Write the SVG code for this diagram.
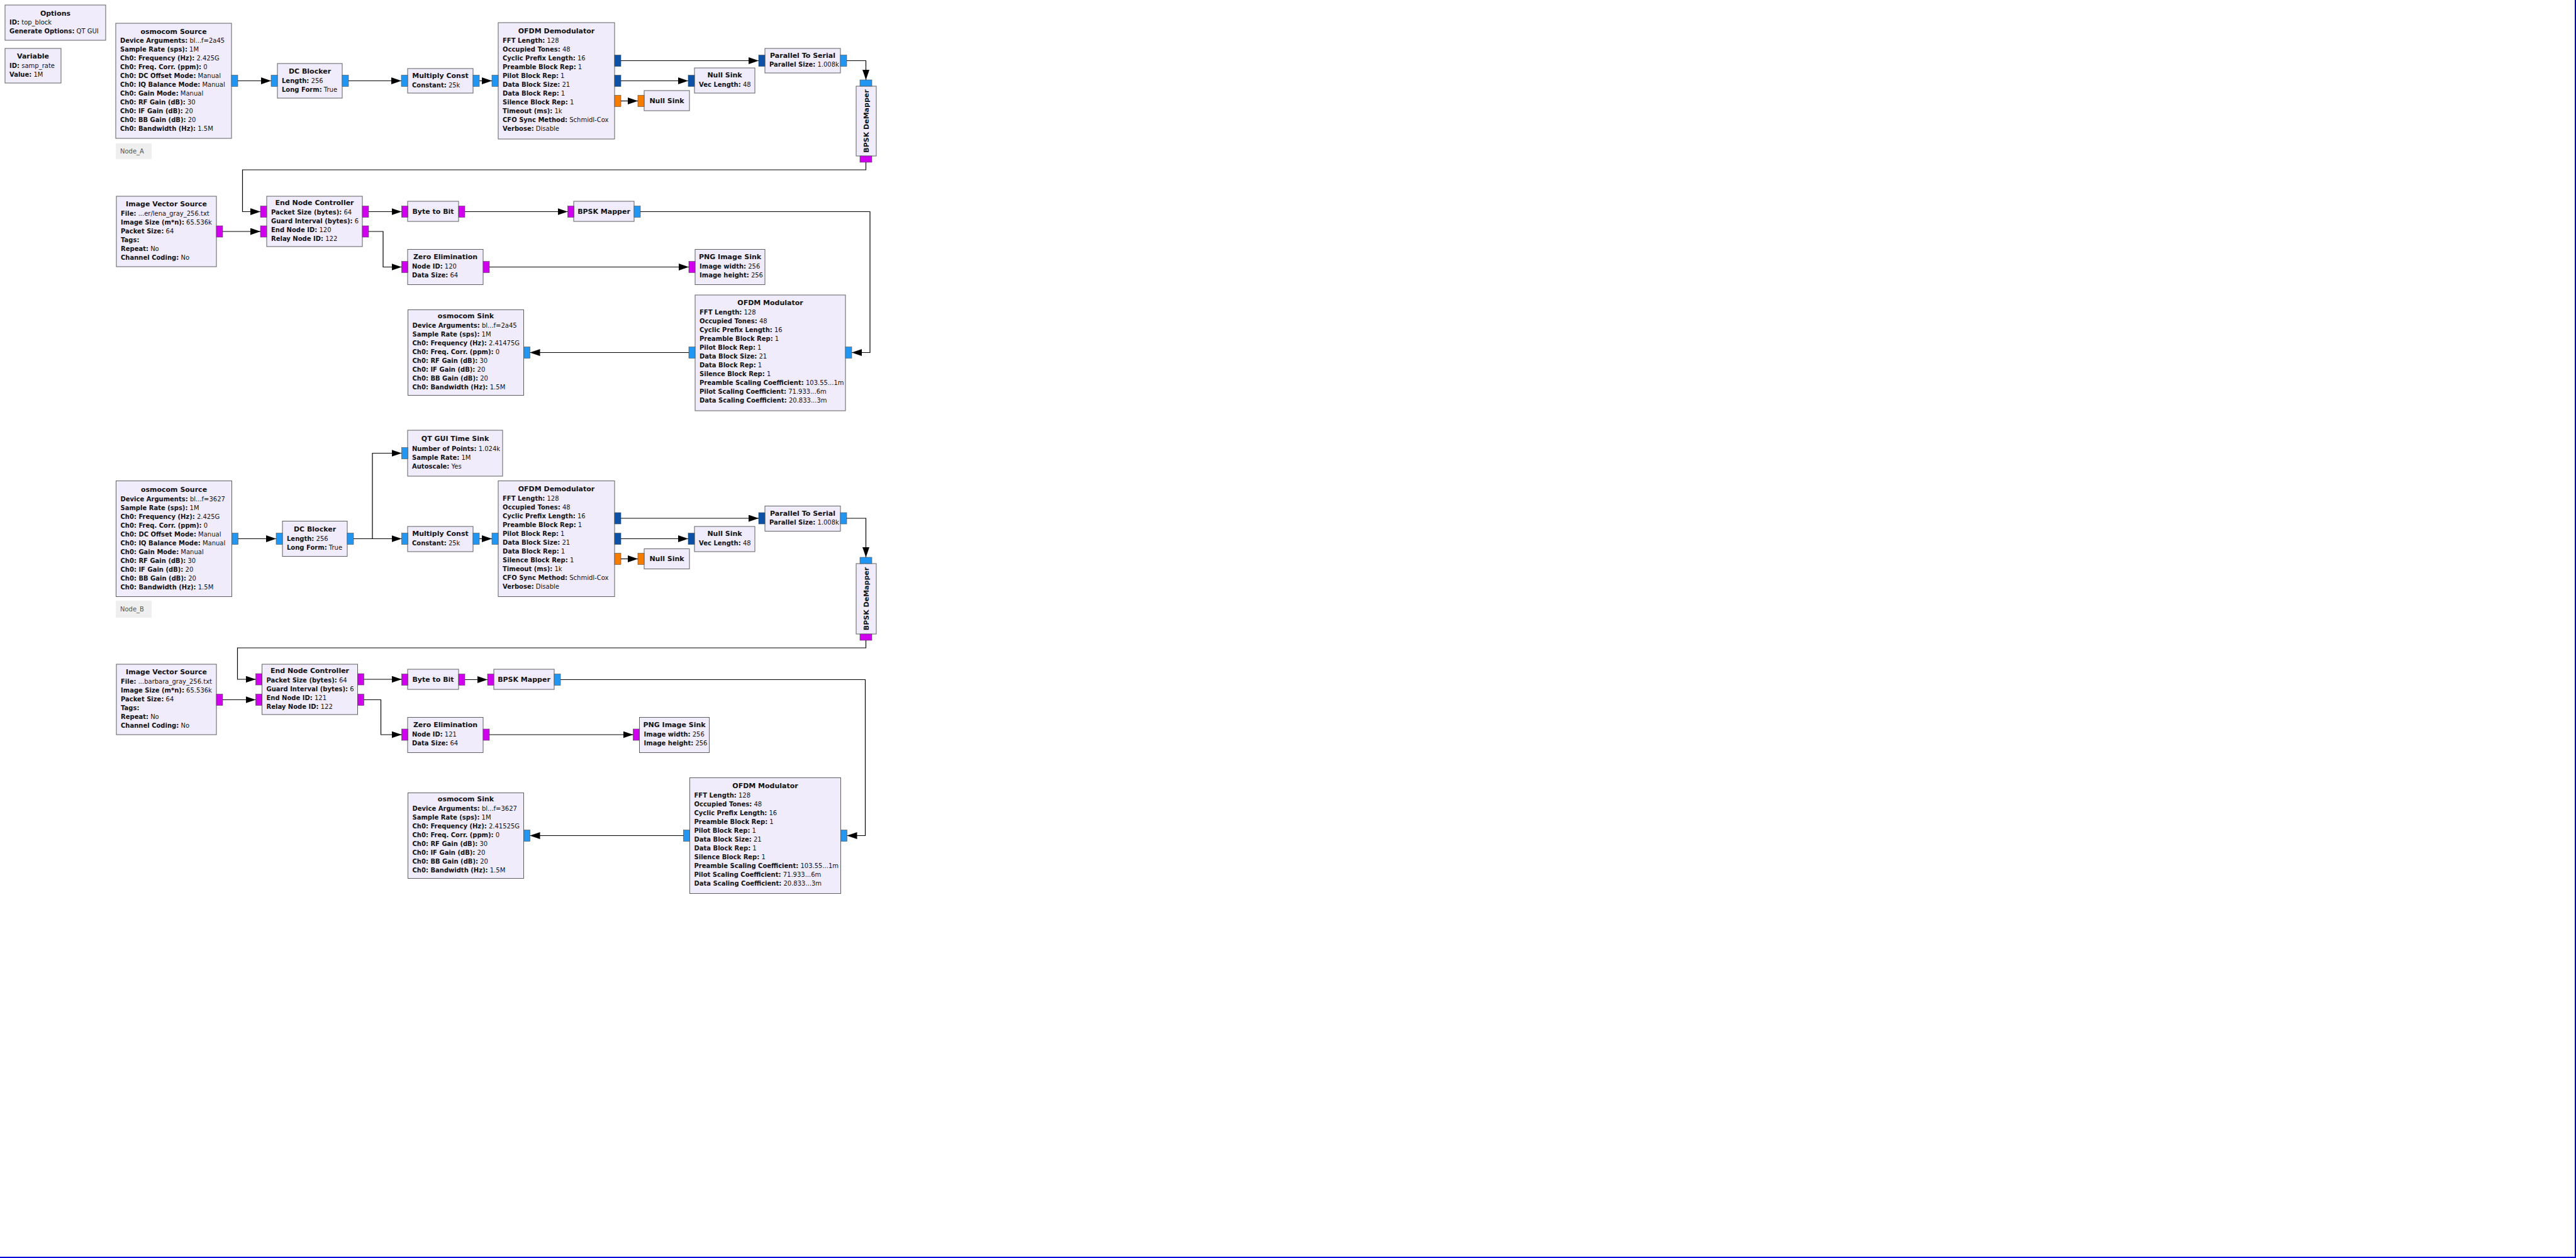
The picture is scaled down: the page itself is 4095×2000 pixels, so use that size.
<svg xmlns="http://www.w3.org/2000/svg" width="4095" height="2000" viewBox="0 0 4095 2000">
<style>
.b{fill:#F0ECFC;stroke:#5E5E5E;stroke-width:1}
text{font-family:"DejaVu Sans","Liberation Sans",sans-serif;font-size:10px;fill:#111}
.h{font-weight:bold;text-anchor:middle;font-size:11px}
.k{font-weight:bold}
.lb{fill:#2196F3;stroke:#4a4a4a;stroke-width:0.6}
.dv{fill:#0B52A6;stroke:#4a4a4a;stroke-width:0.6}
.or{fill:#F57C00;stroke:#4a4a4a;stroke-width:0.6}
.mg{fill:#D000EE;stroke:#4a4a4a;stroke-width:0.6}
.c path{fill:none;stroke:#000;stroke-width:1.2;marker-end:url(#a)}
.lab{fill:#EFEFEF}
</style>
<defs>
<marker id="a" markerUnits="userSpaceOnUse" markerWidth="16" markerHeight="11" refX="16" refY="5.5" orient="auto"><path d="M0,0 L16,5.5 L0,11 z" fill="#000"/></marker>
</defs>
<rect x="0" y="0" width="4095" height="2000" fill="#fff"/>
<g id="options"><rect class="b" x="8" y="8" width="160" height="56"/><text class="h" x="88" y="25">Options</text><text x="15" y="39"><tspan class="k">ID:</tspan> top_block</text><text x="15" y="53"><tspan class="k">Generate Options:</tspan> QT GUI</text></g>
<g id="variable"><rect class="b" x="8" y="77" width="89" height="55"/><text class="h" x="52.5" y="93">Variable</text><text x="15" y="108"><tspan class="k">ID:</tspan> samp_rate</text><text x="15" y="122"><tspan class="k">Value:</tspan> 1M</text></g>

<g id="osmo_src_a"><rect class="b" x="184" y="37" width="184" height="183"/><text class="h" x="276" y="54">osmocom Source</text>
<text x="191" y="68"><tspan class="k">Device Arguments:</tspan> bl...f=2a45</text>
<text x="191" y="82"><tspan class="k">Sample Rate (sps):</tspan> 1M</text>
<text x="191" y="96"><tspan class="k">Ch0: Frequency (Hz):</tspan> 2.425G</text>
<text x="191" y="110"><tspan class="k">Ch0: Freq. Corr. (ppm):</tspan> 0</text>
<text x="191" y="124"><tspan class="k">Ch0: DC Offset Mode:</tspan> Manual</text>
<text x="191" y="138"><tspan class="k">Ch0: IQ Balance Mode:</tspan> Manual</text>
<text x="191" y="152"><tspan class="k">Ch0: Gain Mode:</tspan> Manual</text>
<text x="191" y="166"><tspan class="k">Ch0: RF Gain (dB):</tspan> 30</text>
<text x="191" y="180"><tspan class="k">Ch0: IF Gain (dB):</tspan> 20</text>
<text x="191" y="194"><tspan class="k">Ch0: BB Gain (dB):</tspan> 20</text>
<text x="191" y="208"><tspan class="k">Ch0: Bandwidth (Hz):</tspan> 1.5M</text>
<rect class="lb" x="368" y="119.5" width="10" height="18"/></g>
<g id="node_a_label"><rect class="lab" x="184" y="228" width="57" height="25"/><text x="191" y="244" style="fill:#555">Node_A</text></g>

<g id="dc_a"><rect class="b" x="441" y="101" width="103" height="55"/><text class="h" x="492.5" y="117">DC Blocker</text><text x="448" y="132"><tspan class="k">Length:</tspan> 256</text><text x="448" y="146"><tspan class="k">Long Form:</tspan> True</text><rect class="lb" x="431" y="119.5" width="10" height="18"/><rect class="lb" x="544" y="119.5" width="10" height="18"/></g>
<g id="mult_a"><rect class="b" x="648" y="109" width="104" height="39"/><text class="h" x="700" y="124">Multiply Const</text><text x="655" y="139"><tspan class="k">Constant:</tspan> 25k</text><rect class="lb" x="638" y="119.5" width="10" height="18"/><rect class="lb" x="752" y="119.5" width="10" height="18"/></g>

<g id="ofdm_demod_a"><rect class="b" x="792" y="36" width="185" height="185"/><text class="h" x="884.5" y="53">OFDM Demodulator</text>
<text x="799" y="68"><tspan class="k">FFT Length:</tspan> 128</text>
<text x="799" y="82"><tspan class="k">Occupied Tones:</tspan> 48</text>
<text x="799" y="96"><tspan class="k">Cyclic Prefix Length:</tspan> 16</text>
<text x="799" y="110"><tspan class="k">Preamble Block Rep:</tspan> 1</text>
<text x="799" y="124"><tspan class="k">Pilot Block Rep:</tspan> 1</text>
<text x="799" y="138"><tspan class="k">Data Block Size:</tspan> 21</text>
<text x="799" y="152"><tspan class="k">Data Block Rep:</tspan> 1</text>
<text x="799" y="166"><tspan class="k">Silence Block Rep:</tspan> 1</text>
<text x="799" y="180"><tspan class="k">Timeout (ms):</tspan> 1k</text>
<text x="799" y="194"><tspan class="k">CFO Sync Method:</tspan> Schmidl-Cox</text>
<text x="799" y="208"><tspan class="k">Verbose:</tspan> Disable</text>
<rect class="lb" x="782" y="119.5" width="10" height="18"/><rect class="dv" x="977" y="87.5" width="10" height="18"/><rect class="dv" x="977" y="119.5" width="10" height="18"/><rect class="or" x="977" y="151.5" width="10" height="18"/></g>
<g id="null_vec_a"><rect class="b" x="1104" y="108" width="96" height="40"/><text class="h" x="1152" y="123">Null Sink</text><text x="1111" y="138"><tspan class="k">Vec Length:</tspan> 48</text><rect class="dv" x="1094" y="119.5" width="10" height="18"/></g>
<g id="null_a"><rect class="b" x="1024" y="144" width="72" height="32"/><text class="h" x="1060" y="163.5">Null Sink</text><rect class="or" x="1014" y="151.5" width="10" height="18"/></g>
<g id="p2s_a"><rect class="b" x="1216" y="77" width="120" height="39"/><text class="h" x="1276" y="92">Parallel To Serial</text><text x="1223" y="106"><tspan class="k">Parallel Size:</tspan> 1.008k</text><rect class="dv" x="1206" y="87.5" width="10" height="18"/><rect class="lb" x="1336" y="87.5" width="10" height="18"/></g>
<g id="demap_a"><rect class="b" x="1361" y="137" width="32" height="111"/><text class="h" transform="translate(1381,192.5) rotate(-90)">BPSK DeMapper</text><rect class="lb" x="1367" y="127" width="19" height="10"/><rect class="mg" x="1367" y="248" width="19" height="10"/></g>

<g id="ivs_a"><rect class="b" x="185" y="312" width="159" height="112"/><text class="h" x="264.5" y="328">Image Vector Source</text>
<text x="192" y="343"><tspan class="k">File:</tspan> ...er/lena_gray_256.txt</text>
<text x="192" y="357"><tspan class="k">Image Size (m*n):</tspan> 65.536k</text>
<text x="192" y="371"><tspan class="k">Packet Size:</tspan> 64</text>
<text x="192" y="385"><tspan class="k">Tags:</tspan></text>
<text x="192" y="399"><tspan class="k">Repeat:</tspan> No</text>
<text x="192" y="413"><tspan class="k">Channel Coding:</tspan> No</text>
<rect class="mg" x="344" y="359" width="10" height="18"/></g>
<g id="enc_a"><rect class="b" x="424" y="312" width="152" height="80"/><text class="h" x="500" y="326">End Node Controller</text>
<text x="431" y="341"><tspan class="k">Packet Size (bytes):</tspan> 64</text>
<text x="431" y="355"><tspan class="k">Guard Interval (bytes):</tspan> 6</text>
<text x="431" y="369"><tspan class="k">End Node ID:</tspan> 120</text>
<text x="431" y="383"><tspan class="k">Relay Node ID:</tspan> 122</text>
<rect class="mg" x="414" y="327.5" width="10" height="18"/><rect class="mg" x="414" y="359" width="10" height="18"/><rect class="mg" x="576" y="327.5" width="10" height="18"/><rect class="mg" x="576" y="359" width="10" height="18"/></g>
<g id="b2b_a"><rect class="b" x="648" y="320" width="81" height="32"/><text class="h" x="688.5" y="339.5">Byte to Bit</text><rect class="mg" x="638.5" y="327.5" width="10" height="18"/><rect class="mg" x="729" y="327.5" width="10" height="18"/></g>
<g id="mapper_a"><rect class="b" x="912" y="320" width="96" height="32"/><text class="h" x="960" y="339.5">BPSK Mapper</text><rect class="mg" x="902.5" y="327.5" width="10" height="18"/><rect class="lb" x="1008" y="327.5" width="10" height="18"/></g>
<g id="zero_a"><rect class="b" x="648" y="396.5" width="120" height="56"/><text class="h" x="708" y="412">Zero Elimination</text><text x="655" y="427"><tspan class="k">Node ID:</tspan> 120</text><text x="655" y="441"><tspan class="k">Data Size:</tspan> 64</text><rect class="mg" x="638.5" y="415.5" width="10" height="18"/><rect class="mg" x="768" y="415.5" width="10" height="18"/></g>
<g id="png_a"><rect class="b" x="1105" y="396.5" width="111" height="56"/><text class="h" x="1160.5" y="412">PNG Image Sink</text><text x="1112" y="427"><tspan class="k">Image width:</tspan> 256</text><text x="1112" y="441"><tspan class="k">Image height:</tspan> 256</text><rect class="mg" x="1095" y="415.5" width="10" height="18"/></g>
<g id="ofdm_mod_a"><rect class="b" x="1105" y="469" width="239" height="184"/><text class="h" x="1224.5" y="485">OFDM Modulator</text>
<text x="1112" y="500"><tspan class="k">FFT Length:</tspan> 128</text>
<text x="1112" y="514"><tspan class="k">Occupied Tones:</tspan> 48</text>
<text x="1112" y="528"><tspan class="k">Cyclic Prefix Length:</tspan> 16</text>
<text x="1112" y="542"><tspan class="k">Preamble Block Rep:</tspan> 1</text>
<text x="1112" y="556"><tspan class="k">Pilot Block Rep:</tspan> 1</text>
<text x="1112" y="570"><tspan class="k">Data Block Size:</tspan> 21</text>
<text x="1112" y="584"><tspan class="k">Data Block Rep:</tspan> 1</text>
<text x="1112" y="598"><tspan class="k">Silence Block Rep:</tspan> 1</text>
<text x="1112" y="612"><tspan class="k">Preamble Scaling Coefficient:</tspan> 103.55...1m</text>
<text x="1112" y="626"><tspan class="k">Pilot Scaling Coefficient:</tspan> 71.933...6m</text>
<text x="1112" y="640"><tspan class="k">Data Scaling Coefficient:</tspan> 20.833...3m</text>
<rect class="lb" x="1344" y="551.5" width="10" height="18"/><rect class="lb" x="1095" y="551.5" width="10" height="18"/></g>
<g id="osmo_sink_a"><rect class="b" x="648.5" y="492.5" width="184" height="136"/><text class="h" x="740.5" y="506">osmocom Sink</text>
<text x="655.5" y="521"><tspan class="k">Device Arguments:</tspan> bl...f=2a45</text>
<text x="655.5" y="535"><tspan class="k">Sample Rate (sps):</tspan> 1M</text>
<text x="655.5" y="549"><tspan class="k">Ch0: Frequency (Hz):</tspan> 2.41475G</text>
<text x="655.5" y="563"><tspan class="k">Ch0: Freq. Corr. (ppm):</tspan> 0</text>
<text x="655.5" y="577"><tspan class="k">Ch0: RF Gain (dB):</tspan> 30</text>
<text x="655.5" y="591"><tspan class="k">Ch0: IF Gain (dB):</tspan> 20</text>
<text x="655.5" y="605"><tspan class="k">Ch0: BB Gain (dB):</tspan> 20</text>
<text x="655.5" y="619"><tspan class="k">Ch0: Bandwidth (Hz):</tspan> 1.5M</text>
<rect class="lb" x="832.5" y="551.5" width="10" height="18"/></g>

<g id="qt_time_b"><rect class="b" x="648" y="684" width="151" height="73"/><text class="h" x="723.5" y="701">QT GUI Time Sink</text><text x="655" y="716.5"><tspan class="k">Number of Points:</tspan> 1.024k</text><text x="655" y="730.5"><tspan class="k">Sample Rate:</tspan> 1M</text><text x="655" y="744.5"><tspan class="k">Autoscale:</tspan> Yes</text><rect class="lb" x="638.5" y="711.5" width="10" height="18"/></g>
<g id="osmo_src_b"><rect class="b" x="184.5" y="764.5" width="184" height="184"/><text class="h" x="276.5" y="781.5">osmocom Source</text>
<text x="191.5" y="796.5"><tspan class="k">Device Arguments:</tspan> bl...f=3627</text>
<text x="191.5" y="810.5"><tspan class="k">Sample Rate (sps):</tspan> 1M</text>
<text x="191.5" y="824.5"><tspan class="k">Ch0: Frequency (Hz):</tspan> 2.425G</text>
<text x="191.5" y="838.5"><tspan class="k">Ch0: Freq. Corr. (ppm):</tspan> 0</text>
<text x="191.5" y="852.5"><tspan class="k">Ch0: DC Offset Mode:</tspan> Manual</text>
<text x="191.5" y="866.5"><tspan class="k">Ch0: IQ Balance Mode:</tspan> Manual</text>
<text x="191.5" y="880.5"><tspan class="k">Ch0: Gain Mode:</tspan> Manual</text>
<text x="191.5" y="894.5"><tspan class="k">Ch0: RF Gain (dB):</tspan> 30</text>
<text x="191.5" y="908.5"><tspan class="k">Ch0: IF Gain (dB):</tspan> 20</text>
<text x="191.5" y="922.5"><tspan class="k">Ch0: BB Gain (dB):</tspan> 20</text>
<text x="191.5" y="936.5"><tspan class="k">Ch0: Bandwidth (Hz):</tspan> 1.5M</text>
<rect class="lb" x="368.5" y="847.5" width="10" height="18"/></g>
<g id="node_b_label"><rect class="lab" x="184" y="955" width="57" height="27"/><text x="191" y="972" style="fill:#555">Node_B</text></g>
<g id="dc_b"><rect class="b" x="449" y="828.5" width="103" height="56"/><text class="h" x="500.5" y="845">DC Blocker</text><text x="456" y="860"><tspan class="k">Length:</tspan> 256</text><text x="456" y="874"><tspan class="k">Long Form:</tspan> True</text><rect class="lb" x="439" y="847.5" width="10" height="18"/><rect class="lb" x="552" y="847.5" width="10" height="18"/></g>
<g id="mult_b"><rect class="b" x="648" y="837" width="104" height="40"/><text class="h" x="700" y="852">Multiply Const</text><text x="655" y="866.5"><tspan class="k">Constant:</tspan> 25k</text><rect class="lb" x="638.5" y="847.5" width="10" height="18"/><rect class="lb" x="752" y="847.5" width="10" height="18"/></g>
<g id="ofdm_demod_b"><rect class="b" x="792" y="764.5" width="185" height="184"/><text class="h" x="884.5" y="781">OFDM Demodulator</text>
<text x="799" y="796"><tspan class="k">FFT Length:</tspan> 128</text>
<text x="799" y="810"><tspan class="k">Occupied Tones:</tspan> 48</text>
<text x="799" y="824"><tspan class="k">Cyclic Prefix Length:</tspan> 16</text>
<text x="799" y="838"><tspan class="k">Preamble Block Rep:</tspan> 1</text>
<text x="799" y="852"><tspan class="k">Pilot Block Rep:</tspan> 1</text>
<text x="799" y="866"><tspan class="k">Data Block Size:</tspan> 21</text>
<text x="799" y="880"><tspan class="k">Data Block Rep:</tspan> 1</text>
<text x="799" y="894"><tspan class="k">Silence Block Rep:</tspan> 1</text>
<text x="799" y="908"><tspan class="k">Timeout (ms):</tspan> 1k</text>
<text x="799" y="922"><tspan class="k">CFO Sync Method:</tspan> Schmidl-Cox</text>
<text x="799" y="936"><tspan class="k">Verbose:</tspan> Disable</text>
<rect class="lb" x="782" y="847.5" width="10" height="18"/><rect class="dv" x="977" y="815" width="10" height="18"/><rect class="dv" x="977" y="847.5" width="10" height="18"/><rect class="or" x="977" y="879.5" width="10" height="18"/></g>
<g id="null_vec_b"><rect class="b" x="1104" y="837" width="96" height="40"/><text class="h" x="1152" y="852">Null Sink</text><text x="1111" y="866.5"><tspan class="k">Vec Length:</tspan> 48</text><rect class="dv" x="1094" y="847.5" width="10" height="18"/></g>
<g id="null_b"><rect class="b" x="1024" y="872.5" width="72" height="32"/><text class="h" x="1060" y="892">Null Sink</text><rect class="or" x="1014" y="879.5" width="10" height="18"/></g>
<g id="p2s_b"><rect class="b" x="1216" y="804.5" width="120" height="40"/><text class="h" x="1276" y="820">Parallel To Serial</text><text x="1223" y="834"><tspan class="k">Parallel Size:</tspan> 1.008k</text><rect class="dv" x="1206" y="815" width="10" height="18"/><rect class="lb" x="1336" y="815" width="10" height="18"/></g>
<g id="demap_b"><rect class="b" x="1361" y="896" width="32" height="112"/><text class="h" transform="translate(1381,952) rotate(-90)">BPSK DeMapper</text><rect class="lb" x="1367" y="886" width="19" height="10"/><rect class="mg" x="1367" y="1008" width="19" height="10"/></g>

<g id="ivs_b"><rect class="b" x="185" y="1056" width="159" height="112"/><text class="h" x="264.5" y="1072">Image Vector Source</text>
<text x="192" y="1087"><tspan class="k">File:</tspan> ...barbara_gray_256.txt</text>
<text x="192" y="1101"><tspan class="k">Image Size (m*n):</tspan> 65.536k</text>
<text x="192" y="1115"><tspan class="k">Packet Size:</tspan> 64</text>
<text x="192" y="1129"><tspan class="k">Tags:</tspan></text>
<text x="192" y="1143"><tspan class="k">Repeat:</tspan> No</text>
<text x="192" y="1157"><tspan class="k">Channel Coding:</tspan> No</text>
<rect class="mg" x="344" y="1103.5" width="10" height="18"/></g>
<g id="enc_b"><rect class="b" x="416.5" y="1056" width="152" height="80"/><text class="h" x="492.5" y="1070">End Node Controller</text>
<text x="423.5" y="1085"><tspan class="k">Packet Size (bytes):</tspan> 64</text>
<text x="423.5" y="1099"><tspan class="k">Guard Interval (bytes):</tspan> 6</text>
<text x="423.5" y="1113"><tspan class="k">End Node ID:</tspan> 121</text>
<text x="423.5" y="1127"><tspan class="k">Relay Node ID:</tspan> 122</text>
<rect class="mg" x="406.5" y="1071" width="10" height="18"/><rect class="mg" x="406.5" y="1103.5" width="10" height="18"/><rect class="mg" x="568.5" y="1071" width="10" height="18"/><rect class="mg" x="568.5" y="1103.5" width="10" height="18"/></g>
<g id="b2b_b"><rect class="b" x="648" y="1064" width="81" height="32"/><text class="h" x="688.5" y="1083.5">Byte to Bit</text><rect class="mg" x="638.5" y="1071.5" width="10" height="18"/><rect class="mg" x="729" y="1071.5" width="10" height="18"/></g>
<g id="mapper_b"><rect class="b" x="785" y="1064" width="96" height="32"/><text class="h" x="833" y="1083.5">BPSK Mapper</text><rect class="mg" x="775" y="1071.5" width="10" height="18"/><rect class="lb" x="881" y="1071.5" width="10" height="18"/></g>
<g id="zero_b"><rect class="b" x="648" y="1140.5" width="120" height="56"/><text class="h" x="708" y="1156">Zero Elimination</text><text x="655" y="1171"><tspan class="k">Node ID:</tspan> 121</text><text x="655" y="1185"><tspan class="k">Data Size:</tspan> 64</text><rect class="mg" x="638.5" y="1159" width="10" height="18"/><rect class="mg" x="768" y="1159" width="10" height="18"/></g>
<g id="png_b"><rect class="b" x="1016.5" y="1140.5" width="111" height="56"/><text class="h" x="1072" y="1156">PNG Image Sink</text><text x="1023.5" y="1171"><tspan class="k">Image width:</tspan> 256</text><text x="1023.5" y="1185"><tspan class="k">Image height:</tspan> 256</text><rect class="mg" x="1006.5" y="1159" width="10" height="18"/></g>
<g id="ofdm_mod_b"><rect class="b" x="1096.5" y="1236.5" width="240" height="184"/><text class="h" x="1216.5" y="1252.5">OFDM Modulator</text>
<text x="1103.5" y="1267.5"><tspan class="k">FFT Length:</tspan> 128</text>
<text x="1103.5" y="1281.5"><tspan class="k">Occupied Tones:</tspan> 48</text>
<text x="1103.5" y="1295.5"><tspan class="k">Cyclic Prefix Length:</tspan> 16</text>
<text x="1103.5" y="1309.5"><tspan class="k">Preamble Block Rep:</tspan> 1</text>
<text x="1103.5" y="1323.5"><tspan class="k">Pilot Block Rep:</tspan> 1</text>
<text x="1103.5" y="1337.5"><tspan class="k">Data Block Size:</tspan> 21</text>
<text x="1103.5" y="1351.5"><tspan class="k">Data Block Rep:</tspan> 1</text>
<text x="1103.5" y="1365.5"><tspan class="k">Silence Block Rep:</tspan> 1</text>
<text x="1103.5" y="1379.5"><tspan class="k">Preamble Scaling Coefficient:</tspan> 103.55...1m</text>
<text x="1103.5" y="1393.5"><tspan class="k">Pilot Scaling Coefficient:</tspan> 71.933...6m</text>
<text x="1103.5" y="1407.5"><tspan class="k">Data Scaling Coefficient:</tspan> 20.833...3m</text>
<rect class="lb" x="1336.5" y="1319.5" width="10" height="18"/><rect class="lb" x="1086.5" y="1319.5" width="10" height="18"/></g>
<g id="osmo_sink_b"><rect class="b" x="648.5" y="1260.5" width="184" height="136"/><text class="h" x="740.5" y="1274">osmocom Sink</text>
<text x="655.5" y="1289"><tspan class="k">Device Arguments:</tspan> bl...f=3627</text>
<text x="655.5" y="1303"><tspan class="k">Sample Rate (sps):</tspan> 1M</text>
<text x="655.5" y="1317"><tspan class="k">Ch0: Frequency (Hz):</tspan> 2.41525G</text>
<text x="655.5" y="1331"><tspan class="k">Ch0: Freq. Corr. (ppm):</tspan> 0</text>
<text x="655.5" y="1345"><tspan class="k">Ch0: RF Gain (dB):</tspan> 30</text>
<text x="655.5" y="1359"><tspan class="k">Ch0: IF Gain (dB):</tspan> 20</text>
<text x="655.5" y="1373"><tspan class="k">Ch0: BB Gain (dB):</tspan> 20</text>
<text x="655.5" y="1387"><tspan class="k">Ch0: Bandwidth (Hz):</tspan> 1.5M</text>
<rect class="lb" x="832.5" y="1319.5" width="10" height="18"/></g>

<g id="connectors" class="c">
<path d="M378,128.5 H431"/>
<path d="M554,128.5 H638"/>
<path d="M762,128.5 H782"/>
<path d="M987,96.5 H1206"/>
<path d="M987,128.5 H1094"/>
<path d="M987,160.5 H1014"/>
<path d="M1346,96.5 H1376.5 V127"/>
<path d="M1376.5,258 V270 H385.5 V336.5 H414"/>
<path d="M354,368 H414"/>
<path d="M586,336.5 H638.5"/>
<path d="M586,368 H609 V424.5 H638.5"/>
<path d="M739,336.5 H902.5"/>
<path d="M1018,336.5 H1383 V560.5 H1354"/>
<path d="M1095,560.5 H842.5"/>
<path d="M778,424.5 H1095"/>
<path d="M378.5,856.5 H439"/>
<path d="M562,856.5 H638.5"/>
<path d="M592,856.5 V720.5 H638.5"/>
<path d="M762,856.5 H782"/>
<path d="M987,824 H1206"/>
<path d="M987,856.5 H1094"/>
<path d="M987,888.5 H1014"/>
<path d="M1346,824 H1376.5 V886"/>
<path d="M1376.5,1018 V1030 H377.5 V1080 H406.5"/>
<path d="M354,1112.5 H406.5"/>
<path d="M578.5,1080 H638.5"/>
<path d="M578.5,1112.5 H605.5 V1168 H638.5"/>
<path d="M739,1080.5 H775"/>
<path d="M891,1080.5 H1375.5 V1328.5 H1346.5"/>
<path d="M1086.5,1328.5 H842.5"/>
<path d="M778,1168 H1006.5"/>
</g>
<g id="frame"><path d="M4094,0 V1999 H0" fill="none" stroke="#0000DD" stroke-width="2"/></g>
</svg>
